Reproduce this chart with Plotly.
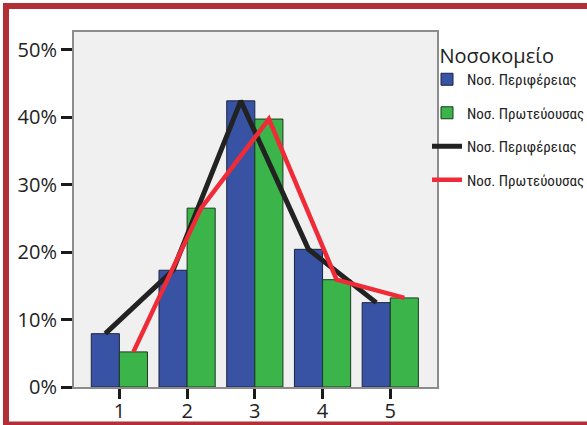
import numpy as np
import plotly.graph_objects as go

categories = [1, 2, 3, 4, 5]
series_names = ["Νοσ. Περιφέρειας", "Νοσ. Πρωτεύουσας"]
periferia = [7.9, 17.3, 42.4, 20.4, 12.5]
protevousa = [5.2, 26.5, 39.7, 15.9, 13.2]
y_ticks = [0, 10, 20, 30, 40, 50]
y_tick_labels = ["0%", "10%", "20%", "30%", "40%", "50%"]
legend_title = "Νοσοκομείο"

BLUE = "#3953a4"
GREEN = "#3bb44a"
BARGAP = 0.17
W = 587
H = 425
L, R, T, B = 74, 150, 32, 38
PW, PH = W - L - R, H - T - B

def px_x(p):
    return (p - L) / PW

def px_y(p):
    return (H - B - p) / PH

cats = np.array(categories, dtype=float)
half = (1 - BARGAP) / 4.0

legend_font = dict(family="Roboto Condensed, DejaVu Sans Condensed, sans-serif",
                   size=15, color="#222")

fig = go.Figure()
fig.add_trace(go.Bar(x=cats, y=periferia, name=series_names[0], marker=dict(color=BLUE, line=dict(color="#1b2440", width=1)),
                     legendgroup="a", offsetgroup="a"))
fig.add_trace(go.Bar(x=cats, y=protevousa, name=series_names[1], marker=dict(color=GREEN, line=dict(color="#1b3a20", width=1)),
                     legendgroup="b", offsetgroup="b"))
fig.add_trace(go.Scatter(x=cats - half, y=periferia, name=series_names[0], mode="lines",
                         line=dict(color="#222222", width=5), legendgroup="c"))
fig.add_trace(go.Scatter(x=cats + half, y=protevousa, name=series_names[1], mode="lines",
                         line=dict(color="#ee2b36", width=4.5), legendgroup="d"))

fig.update_layout(
    width=W, height=H,
    margin=dict(l=L, r=R, t=T, b=B, autoexpand=False),
    paper_bgcolor="white",
    plot_bgcolor="#f0f0f0",
    barmode="group",
    bargap=BARGAP,
    bargroupgap=0,
    font=dict(family="Open Sans, sans-serif", size=20, color="#222"),
    showlegend=True,
    legend=dict(
        title=dict(text="\u00a0\u00a0" + legend_title, font=dict(family="Open Sans, sans-serif", size=20, color="#222")),
        font=legend_font,
        x=px_x(427), xanchor="left",
        y=px_y(37), yanchor="top",
        bgcolor="rgba(0,0,0,0)",
        tracegroupgap=11,
        itemwidth=30,
    ),
    shapes=[
        dict(type="rect", xref="paper", yref="paper",
             x0=px_x(6), x1=px_x(600), y0=px_y(424.5), y1=px_y(6),
             line=dict(color="#b22f38", width=6), fillcolor="rgba(0,0,0,0)", layer="above"),
    ],
)
fig.update_xaxes(
    range=[0.33, 5.69], tickvals=categories, ticktext=[str(c) for c in categories],
    showgrid=False, zeroline=False,
    showline=True, linecolor="#8c8c8c", linewidth=2, mirror=True,
    ticks="outside", ticklen=10, tickwidth=3, tickcolor="#1a1a1a",
    ticklabelstandoff=-5,
)
fig.update_yaxes(
    range=[0, 52.6], tickvals=y_ticks, ticktext=y_tick_labels,
    showgrid=False, zeroline=False,
    showline=True, linecolor="#8c8c8c", linewidth=2, mirror=True,
    ticks="outside", ticklen=11, tickwidth=3, tickcolor="#1a1a1a",
)

fig.write_html("out.html", config={"displayModeBar": False},
               post_script="document.body.style.margin='0px';document.body.style.overflow='hidden';")
